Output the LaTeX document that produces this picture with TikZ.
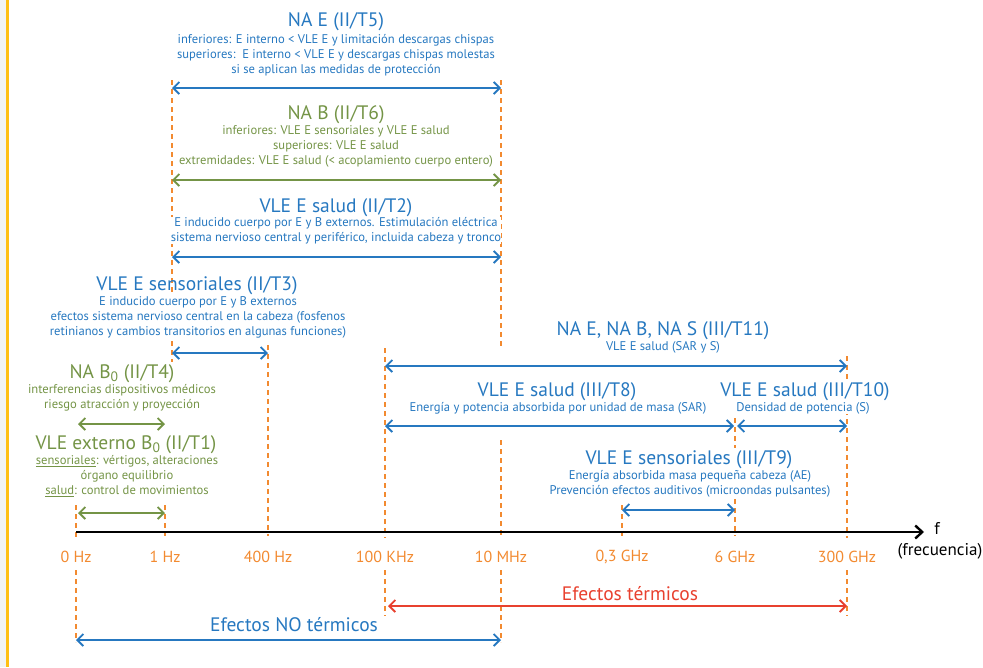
\documentclass[tikz,border=0pt]{standalone}
\usepackage{fontspec}
\setmainfont{PT Sans}
\usetikzlibrary{arrows.meta}
\definecolor{cblue}{RGB}{38,120,192}
\definecolor{cgreen}{RGB}{116,148,70}
\definecolor{corange}{RGB}{242,138,48}
\definecolor{cred}{RGB}{232,65,47}
\definecolor{cyellow}{RGB}{255,192,20}
\definecolor{cgray}{RGB}{242,244,244}
\tikzset{
  ttl/.style={font=\fontsize{19.5}{22}\selectfont, inner sep=0pt, anchor=center},
  dsc/.style={font=\fontsize{12.6}{15.3}\selectfont, inner sep=0pt, align=center, anchor=north},
  frq/.style={font=\fontsize{16}{18}\selectfont, inner sep=2pt, text=corange, anchor=center},
  opq/.style={fill=white},
  vdash/.style={draw=corange, line width=1.2pt, dash pattern=on 5pt off 4pt},
  rng/.style={line width=1.8pt, {Straight Barb[length=6pt,width=12pt,line width=1.8pt]}-{Straight Barb[length=6pt,width=12pt,line width=1.8pt]}},
}
\begin{document}
\begin{tikzpicture}[x=1pt,y=-1pt]
\useasboundingbox (0,0) rectangle (983,667);
\fill[cgray] (0,0) rectangle (6,667);
\draw[cyellow, line width=3pt] (7.5,0) -- (7.5,667);

% dashed verticals
\draw[vdash] (76,505) -- (76,538);
\draw[vdash] (76,570) -- (76,642);
\draw[vdash] (165,505) -- (165,536);
\draw[vdash] (172,80) -- (172,362);
\draw[vdash] (501,80) -- (501,346);
\draw[vdash] (501,440) -- (501,538);
\draw[vdash] (501,570) -- (501,642);
\draw[vdash] (268,345) -- (268,536);
\draw[vdash] (385,348) -- (385,538);
\draw[vdash] (385,570) -- (385,616);
\draw[vdash] (622,505) -- (622,536);
\draw[vdash] (735,418) -- (735,536);
\draw[vdash] (847,356) -- (847,538);
\draw[vdash] (847,570) -- (847,616);

% axis
\coordinate (ax0) at (76,532);
\coordinate (ax1) at (924,532);
\draw[line width=2.6pt, -{Straight Barb[length=7pt,width=13pt,line width=2.4pt]}] (ax0) -- (ax1);
\node[font=\fontsize{17}{19}\selectfont, inner sep=0pt] (f) at (937,528) {f};
\node[font=\fontsize{17}{19}\selectfont, inner sep=0pt] (frec) at (940,551) {(frecuencia)};

\node[frq] (l0) at (76,557) {0 Hz};
\node[frq] (l1) at (165,557) {1 Hz};
\node[frq] (l2) at (268,557) {400 Hz};
\node[frq] (l3) at (385,557) {100 KHz};
\node[frq] (l4) at (501,557) {10 MHz};
\node[frq] (l5) at (622,557) {0,3 GHz};
\node[frq] (l6) at (735,557) {6 GHz};
\node[frq] (l7) at (847,557) {300 GHz};

% T5
\node[ttl, text=cblue] (t5) at (336,22) {NA E (II/T5)};
\node[dsc, text=cblue] (d5) at (336,34) {inferiores: E interno < VLE E y limitación descargas chispas\\superiores:\ \ E interno < VLE E y descargas chispas molestas\\si se aplican las medidas de protección};
\coordinate (a5l) at (172,88); \coordinate (a5r) at (501,88);
\draw[rng, cblue] (a5l) -- (a5r);

% T6
\node[ttl, text=cgreen] (t6) at (336,115) {NA B (II/T6)};
\node[dsc, text=cgreen] (d6) at (336,125) {inferiores: VLE E sensoriales y VLE E salud\\superiores: VLE E salud\\extremidades: VLE E salud (< acoplamiento cuerpo entero)};
\coordinate (a6l) at (172,180); \coordinate (a6r) at (501,180);
\draw[rng, cgreen] (a6l) -- (a6r);

% T2
\node[ttl, text=cblue] (t2) at (336,208) {VLE E salud (II/T2)};
\node[dsc, opq, text=cblue] (d2) at (336,217) {E inducido cuerpo por E y B externos. Estimulación eléctrica\\sistema nervioso central y periférico, incluida cabeza y tronco};
\coordinate (a2l) at (172,257); \coordinate (a2r) at (501,257);
\draw[rng, cblue] (a2l) -- (a2r);

% T3
\node[ttl, text=cblue] (t3) at (197,286) {VLE E sensoriales (II/T3)};
\node[dsc, opq, text=cblue] (d3) at (198,296) {E inducido cuerpo por E y B externos\\efectos sistema nervioso central en la cabeza (fosfenos\\retinianos y cambios transitorios en algunas funciones)};
\coordinate (a3l) at (172,353); \coordinate (a3r) at (268,353);
\draw[rng, cblue] (a3l) -- (a3r);

% T4
\node[ttl, text=cgreen] (t4) at (122,374) {NA B\textsubscript{0} (II/T4)};
\node[dsc, text=cgreen] (d4) at (122,384) {interferencias dispositivos médicos\\riesgo atracción y proyección};
\coordinate (a4l) at (78,424); \coordinate (a4r) at (165,424);
\draw[rng, cgreen] (a4l) -- (a4r);

% T1
\node[ttl, text=cgreen] (t1) at (126,445) {VLE externo B\textsubscript{0} (II/T1)};
\node[dsc, text=cgreen] (d1) at (127,455) {\underline{sensoriales}: vértigos, alteraciones\\órgano equilibrio\\\underline{salud}: control de movimientos};
\coordinate (a1l) at (78,513); \coordinate (a1r) at (165,513);
\draw[rng, cgreen] (a1l) -- (a1r);

% T11
\node[ttl, text=cblue] (t11) at (663,331) {NA E, NA B, NA S (III/T11)};
\node[dsc, text=cblue] (d11) at (663,341) {VLE E salud (SAR y S)};
\coordinate (a11l) at (385,366); \coordinate (a11r) at (847,366);
\draw[rng, cblue] (a11l) -- (a11r);

% T8
\node[ttl, text=cblue] (t8) at (557,392) {VLE E salud (III/T8)};
\node[dsc, text=cblue] (d8) at (558,402) {Energía y potencia absorbida por unidad de masa (SAR)};
\coordinate (a8l) at (385,426); \coordinate (a8r) at (734,426);
\draw[rng, cblue] (a8l) -- (a8r);

% T10
\node[ttl, opq, inner ysep=2pt, text=cblue] (t10) at (805,392) {VLE E salud (III/T10)};
\node[dsc, opq, text=cblue] (d10) at (803,402) {Densidad de potencia (S)};
\coordinate (a10l) at (737,426); \coordinate (a10r) at (847,426);
\draw[rng, cblue] (a10l) -- (a10r);

% T9
\node[ttl, opq, inner ysep=3pt, text=cblue] (t9) at (689,460) {VLE E sensoriales (III/T9)};
\node[dsc, opq, inner ysep=1pt, text=cblue] (d9) at (690,469) {Energía absorbida masa pequeña cabeza (AE)\\Prevención efectos auditivos (microondas pulsantes)};
\coordinate (a9l) at (622,510); \coordinate (a9r) at (735,510);
\draw[rng, cblue] (a9l) -- (a9r);

% effects
\node[font=\fontsize{19.5}{22}\selectfont, inner sep=0pt, text=cred] (et) at (630,594) {Efectos térmicos};
\coordinate (etl) at (388,606); \coordinate (etr) at (847,606);
\draw[rng, cred, line width=2.4pt] (etl) -- (etr);
\node[font=\fontsize{19.5}{22}\selectfont, inner sep=0pt, text=cblue] (ent) at (294,625) {Efectos NO térmicos};
\coordinate (entl) at (76,640); \coordinate (entr) at (501,640);
\draw[rng, cblue, line width=2.4pt] (entl) -- (entr);
\end{tikzpicture}
\end{document}
